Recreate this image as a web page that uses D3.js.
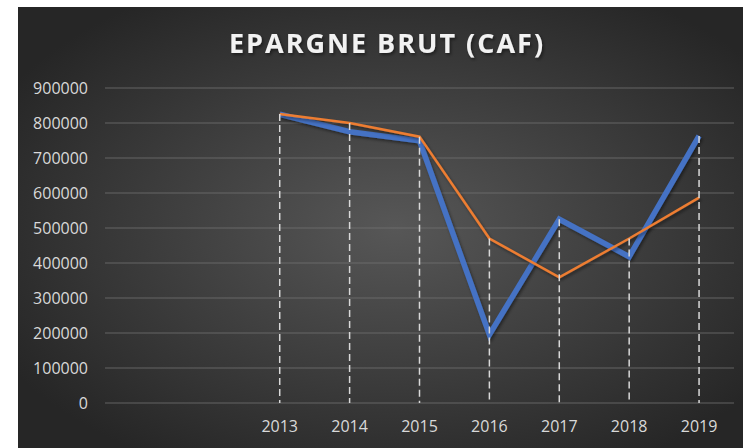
<!DOCTYPE html>
<html>
<head>
<meta charset="utf-8">
<script src="https://cdn.jsdelivr.net/npm/d3@7"></script>
<style>
  html, body { margin: 0; padding: 0; background: #ffffff; }
  svg { display: block; }
</style>
</head>
<body>
<svg id="chart"></svg>
<script>
// Data
const years = ["2013", "2014", "2015", "2016", "2017", "2018", "2019"]
// two empty slots sit before 2013 on the category axis
const slots = ["vide1", "vide2", ...years]
const serieBleue = [825000, 775000, 749000, 195000, 525000, 418000, 763000]
const serieOrange = [826000, 800000, 761000, 470000, 359000, 470000, 587000]
const yTicks = [0, 100000, 200000, 300000, 400000, 500000, 600000, 700000, 800000, 900000]
const title = "EPARGNE BRUT (CAF)"

const width = 743
const height = 448
const frame = { left: 18, top: 7 }
const plot = { left: 105, right: 734, top: 88, bottom: 403 }

const svg = d3.select("#chart")
  .attr("width", width)
  .attr("height", height)

const defs = svg.append("defs")

const grad = defs.append("radialGradient")
  .attr("id", "bg")
  .attr("cx", "52%")
  .attr("cy", "50%")
  .attr("r", "62%")
grad.append("stop").attr("offset", "0%").attr("stop-color", "#575757")
grad.append("stop").attr("offset", "100%").attr("stop-color", "#262626")

const shadow = defs.append("filter")
  .attr("id", "shadow")
  .attr("x", "-10%").attr("y", "-10%")
  .attr("width", "120%").attr("height", "120%")
shadow.append("feDropShadow")
  .attr("dx", 1.5).attr("dy", 2)
  .attr("stdDeviation", 1.5)
  .attr("flood-color", "#000")
  .attr("flood-opacity", 0.45)

svg.append("rect")
  .attr("x", frame.left)
  .attr("y", frame.top)
  .attr("width", width - frame.left)
  .attr("height", height - frame.top)
  .attr("fill", "url(#bg)")

const x = d3.scaleBand()
  .domain(slots)
  .range([plot.left, plot.right])

const y = d3.scaleLinear()
  .domain([0, 900000])
  .range([plot.bottom, plot.top])

const cx = d => x(d) + x.bandwidth() / 2

// Gridlines
svg.append("g")
  .selectAll("line")
  .data(yTicks)
  .join("line")
  .attr("x1", plot.left)
  .attr("x2", plot.right)
  .attr("y1", d => y(d))
  .attr("y2", d => y(d))
  .attr("stroke", "#707070")
  .attr("stroke-opacity", 0.8)
  .attr("stroke-width", 1)

// Y axis labels
svg.append("g")
  .attr("transform", `translate(${plot.left - 17}, 0)`)
  .call(d3.axisLeft(y).tickValues(yTicks).tickSize(0).tickFormat(d => String(d)))
  .call(g => g.select(".domain").remove())
  .call(g => g.selectAll(".tick text")
    .attr("x", 0)
    .attr("fill", "#d9d9d9")
    .attr("font-family", "'Open Sans', sans-serif")
    .attr("font-size", "16px"))

// X axis labels
svg.append("g")
  .attr("transform", `translate(0, ${plot.bottom})`)
  .call(d3.axisBottom(x).tickValues(years).tickSize(0))
  .call(g => g.select(".domain").remove())
  .call(g => g.selectAll(".tick text")
    .attr("y", 18)
    .attr("fill", "#d9d9d9")
    .attr("font-family", "'Open Sans', sans-serif")
    .attr("font-size", "16px"))

const line = d3.line()
  .x((d, i) => cx(years[i]))
  .y(d => y(d))

svg.append("path")
  .datum(serieBleue)
  .attr("d", line)
  .attr("fill", "none")
  .attr("stroke", "#4472c4")
  .attr("stroke-width", 5.5)
  .attr("stroke-linejoin", "miter")
  .attr("filter", "url(#shadow)")

svg.append("path")
  .datum(serieOrange)
  .attr("d", line)
  .attr("fill", "none")
  .attr("stroke", "#ed7d31")
  .attr("stroke-width", 2.5)
  .attr("filter", "url(#shadow)")

// Drop lines from the highest point of each year down to the axis
svg.append("g")
  .selectAll("line")
  .data(years)
  .join("line")
  .attr("x1", d => cx(d))
  .attr("x2", d => cx(d))
  .attr("y1", (d, i) => y(Math.max(serieBleue[i], serieOrange[i])))
  .attr("y2", y(0))
  .attr("stroke", "#d9d9d9")
  .attr("stroke-width", 1.5)
  .attr("stroke-dasharray", "7 4")

// Title
svg.append("text")
  .attr("x", 387)
  .attr("y", 53)
  .attr("text-anchor", "middle")
  .attr("fill", "#f2f2f2")
  .attr("font-family", "'Open Sans', sans-serif")
  .attr("font-weight", "bold")
  .attr("font-size", "27px")
  .attr("letter-spacing", "2px")
  .attr("filter", "url(#shadow)")
  .text(title)
</script>
</body>
</html>
